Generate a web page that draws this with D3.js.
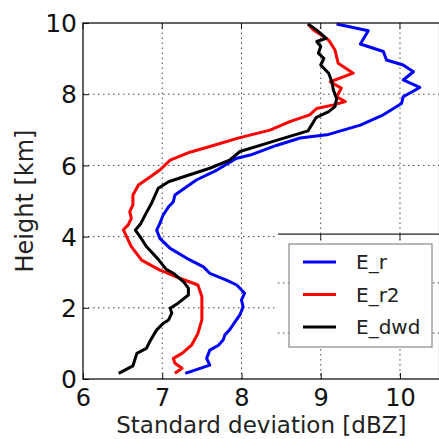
<!DOCTYPE html>
<html>
<head>
<meta charset="utf-8">
<script src="https://cdn.jsdelivr.net/npm/d3@7"></script>
<style>
  body { margin: 0; background: #fff; }
  svg { display: block; font-family: "DejaVu Sans", sans-serif; }
</style>
</head>
<body>
<svg></svg>
<script>
// profiles: [std dev dBZ, height km]
const seriesNames = ['E_r', 'E_r2', 'E_dwd'];
const seriesColors = ['#0000ff', '#ff0000', '#000000'];

const eR = [
  [7.29,0.16],[7.60,0.39],[7.56,0.58],[7.60,0.81],[7.71,0.95],[7.77,1.10],[7.79,1.24],
  [7.85,1.38],[7.92,1.61],[7.98,1.80],[8.02,2.03],[8.00,2.22],[8.04,2.41],[7.94,2.64],
  [7.81,2.78],[7.60,2.97],[7.52,3.15],[7.31,3.39],[7.10,3.67],[6.97,3.95],[6.93,4.18],
  [6.97,4.37],[7.01,4.60],[7.08,4.84],[7.14,4.98],[7.16,5.17],[7.25,5.31],[7.43,5.59],
  [7.69,5.87],[7.94,6.20],[8.11,6.29],[8.44,6.56],[8.74,6.77],[9.10,6.87],[9.50,7.13],
  [9.79,7.42],[10.02,7.74],[10.04,7.93],[10.25,8.19],[10.04,8.40],[10.17,8.63],
  [10.04,8.82],[9.83,8.96],[9.79,9.20],[9.50,9.41],[9.60,9.78],[9.20,9.97]
];

const eR2 = [
  [7.16,0.16],[7.25,0.30],[7.16,0.44],[7.14,0.58],[7.25,0.72],[7.37,0.95],[7.45,1.28],
  [7.50,1.66],[7.50,2.03],[7.50,2.31],[7.45,2.64],[7.22,2.83],[7.03,3.01],[6.97,3.06],
  [6.74,3.34],[6.61,3.72],[6.55,4.00],[6.51,4.19],[6.57,4.33],[6.61,4.51],[6.59,4.70],
  [6.63,4.89],[6.63,5.17],[6.70,5.45],[6.85,5.68],[6.97,5.87],[7.10,6.15],[7.35,6.37],
  [7.60,6.53],[7.98,6.78],[8.36,6.99],[8.61,7.23],[8.86,7.42],[8.95,7.60],[9.16,7.70],
  [9.31,7.79],[9.20,7.93],[9.26,8.17],[9.12,8.35],[9.41,8.59],[9.22,8.87],[9.18,9.24],
  [9.10,9.52],[8.91,9.80],[8.84,9.97]
];

const eDwd = [
  [6.45,0.16],[6.63,0.37],[6.68,0.72],[6.80,0.86],[6.85,1.08],[6.93,1.38],[7.01,1.56],
  [7.08,1.66],[7.12,1.85],[7.10,1.99],[7.20,2.13],[7.33,2.36],[7.33,2.55],[7.27,2.73],
  [7.14,2.97],[7.05,3.08],[6.95,3.36],[6.80,3.72],[6.72,4.00],[6.66,4.18],[6.73,4.37],
  [6.79,4.63],[6.87,4.96],[6.95,5.36],[7.08,5.54],[7.27,5.68],[7.60,5.92],[7.85,6.15],
  [7.98,6.39],[8.42,6.69],[8.84,6.97],[8.94,7.34],[9.10,7.51],[9.18,7.65],[9.20,7.88],
  [9.16,8.12],[9.14,8.35],[9.10,8.59],[9.00,8.82],[9.04,9.01],[8.97,9.15],[9.00,9.34],
  [8.95,9.48],[9.07,9.57],[8.95,9.80],[8.84,9.97]
];

const xTicks = [6, 7, 8, 9, 10];
const yTicks = [0, 2, 4, 6, 8, 10];

const w = 439, h = 439;
const margin = {left: 83, top: 23, bottom: 60};
const svg = d3.select('svg').attr('width', w).attr('height', h);

const xScale = d3.scaleLinear().domain([6, 10.5]).range([margin.left, 439.6]);
const yScale = d3.scaleLinear().domain([0, 10]).range([h - margin.bottom, margin.top]);

const x0 = xScale.range()[0], x1 = xScale.range()[1];
const y0 = yScale.range()[0], y1 = yScale.range()[1];

// grid
const grid = svg.append('g').attr('stroke', '#444').attr('stroke-width', 1).attr('stroke-dasharray', '1.5,3.5');
grid.selectAll('.gx').data(xTicks.slice(1)).enter().append('line')
  .attr('x1', d => xScale(d)).attr('x2', d => xScale(d)).attr('y1', y0).attr('y2', y1);
grid.selectAll('.gy').data(yTicks.slice(1, -1)).enter().append('line')
  .attr('y1', d => yScale(d)).attr('y2', d => yScale(d)).attr('x1', x0).attr('x2', x1);

// lines
const line = d3.line().x(d => xScale(d[0])).y(d => yScale(d[1]));
const series = [eR, eR2, eDwd];
svg.append('g').selectAll('path').data(series).enter().append('path')
  .attr('d', line).attr('fill', 'none')
  .attr('stroke', (d, i) => seriesColors[i]).attr('stroke-width', 3).attr('stroke-linejoin', 'round');

// pasted-over patch around the legend (as in the source image)
const patchX = 8.46, patchTop = 4.07, patchGrid = [2.7, 1.29];
const patch = svg.append('g');
patch.append('rect').attr('x', xScale(patchX)).attr('y', yScale(patchTop))
  .attr('width', x1 - xScale(patchX)).attr('height', y0 - 1 - yScale(patchTop)).attr('fill', '#fff');
patch.append('line').attr('x1', xScale(patchX)).attr('x2', x1).attr('y1', yScale(patchTop)).attr('y2', yScale(patchTop))
  .attr('stroke', '#222').attr('stroke-width', 1.2);
patch.selectAll('.pg').data(patchGrid).enter().append('line')
  .attr('x1', xScale(patchX)).attr('x2', x1).attr('y1', d => yScale(d)).attr('y2', d => yScale(d))
  .attr('stroke', '#444').attr('stroke-dasharray', '1.5,3.5');
patch.selectAll('.pv').data([9, 10]).enter().append('line')
  .attr('x1', d => xScale(d)).attr('x2', d => xScale(d)).attr('y1', yScale(patchTop)).attr('y2', y0)
  .attr('stroke', '#444').attr('stroke-dasharray', '1.5,3.5');
patch.selectAll('.pt').data([9, 10]).enter().append('line')
  .attr('x1', d => xScale(d)).attr('x2', d => xScale(d)).attr('y1', yScale(patchTop)).attr('y2', yScale(patchTop) + 6)
  .attr('stroke', '#222').attr('stroke-width', 1);

// axes (classic inward ticks on all sides)
const xAxis = d3.axisBottom(xScale).tickValues(xTicks).tickSize(-6).tickPadding(10).tickFormat(d3.format('d'));
const yAxis = d3.axisLeft(yScale).tickValues(yTicks).tickSize(-6).tickPadding(6).tickFormat(d3.format('d'));

const gx = svg.append('g').attr('transform', `translate(0,${y0})`).call(xAxis);
gx.select('.domain').remove();
gx.selectAll('text').attr('font-size', 24).attr('fill', '#111').attr('font-family', 'DejaVu Sans');
gx.selectAll('line').attr('stroke', '#111');

const gy = svg.append('g').attr('transform', `translate(${x0},0)`).call(yAxis);
gy.select('.domain').remove();
gy.selectAll('text').attr('font-size', 25).attr('fill', '#111').attr('font-family', 'DejaVu Sans').attr('dy', '0.35em');
gy.selectAll('line').attr('stroke', '#111');

// top ticks
svg.append('g').selectAll('line').data(xTicks).enter().append('line')
  .attr('x1', d => xScale(d)).attr('x2', d => xScale(d)).attr('y1', y1).attr('y2', y1 + 6).attr('stroke', '#111');

// spines
svg.append('rect').attr('x', x0).attr('y', y1).attr('width', x1 - x0).attr('height', y0 - y1)
  .attr('fill', 'none').attr('stroke', '#111').attr('stroke-width', 1.3);

// axis labels
svg.append('text').attr('x', (x0 + x1) / 2).attr('y', 433).attr('text-anchor', 'middle')
  .attr('font-size', 23).attr('fill', '#222').text('Standard deviation [dBZ]');
svg.append('text').attr('transform', `translate(33,${(y0 + y1) / 2}) rotate(-90)`).attr('text-anchor', 'middle')
  .attr('font-size', 24).attr('fill', '#222').text('Height [km]');

// legend
const legend = svg.append('g').attr('transform', 'translate(289,244)');
legend.append('rect').attr('width', 143).attr('height', 103).attr('fill', '#fff')
  .attr('stroke', '#888').attr('stroke-width', 1.2);
const item = legend.selectAll('.item').data(seriesNames).enter().append('g')
  .attr('transform', (d, i) => `translate(0,${18 + i * 32.5})`);
item.append('line').attr('x1', 14).attr('x2', 47).attr('stroke', (d, i) => seriesColors[i]).attr('stroke-width', 3);
item.append('text').attr('x', 67).attr('dy', '0.36em').attr('font-size', 20).attr('fill', '#222').text(d => d);
</script>
</body>
</html>
